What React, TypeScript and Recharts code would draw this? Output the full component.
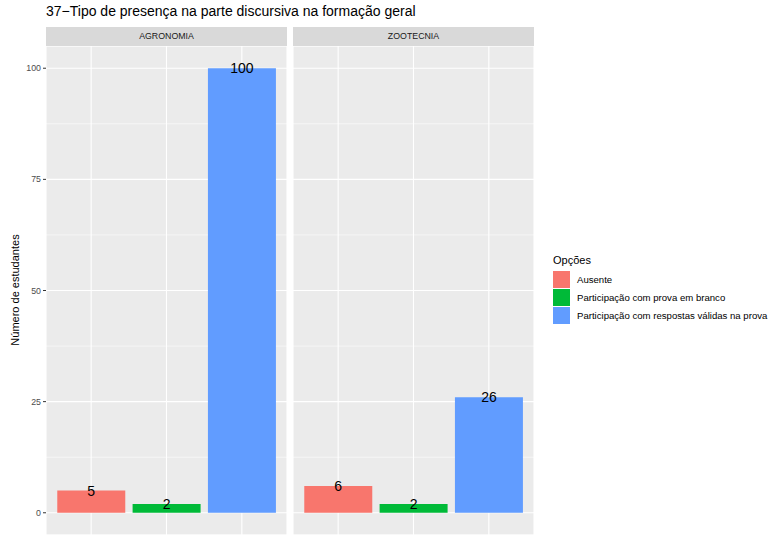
import React from "react";
import { BarChart, Bar, XAxis, YAxis, CartesianGrid, Cell, LabelList } from "recharts";

const categories = ["Ausente", "Participação com prova em branco", "Participação com respostas válidas na prova"];
const agronomiaValues = [5, 2, 100];
const zootecniaValues = [6, 2, 26];
const colors = ["#F8766D", "#00BA38", "#619CFF"];
const majorTicks = [0, 25, 50, 75, 100];
const minorTicks = [12.5, 37.5, 62.5, 87.5];
const facets = ["AGRONOMIA", "ZOOTECNIA"];

const FONT = "'Liberation Sans', Arial, Helvetica, sans-serif";

const buildData = (vals: number[]) => categories.map((c, i) => ({ cat: c, value: vals[i] }));

const ValueLabel = (props: any) => {
  const { x, y, width, value } = props;
  return (
    <text x={x + width / 2} y={y} textAnchor="middle" dominantBaseline="central" fontSize={14} fontFamily={FONT} fill="#000">
      {value}
    </text>
  );
};

const Panel = ({ vals, showAxis }: { vals: number[]; showAxis: boolean }) => {
  const data = buildData(vals);
  return (
    <BarChart
      width={showAxis ? 287 : 241}
      height={489}
      data={data}
      margin={{ top: 0, right: 0, bottom: 0, left: 0 }}
      barCategoryGap="5%"
    >
      <CartesianGrid fill="#EBEBEB" stroke="#FFFFFF" strokeWidth={0.55} vertical={false} yAxisId="minor" />
      <CartesianGrid stroke="#FFFFFF" strokeWidth={1.1} yAxisId="major" />
      <XAxis
        dataKey="cat"
        interval={0}
        hide
        padding={{ left: 7.5, right: 7.5 }}
      />
      <YAxis
        yAxisId="minor"
        type="number"
        domain={[-5, 105]}
        ticks={minorTicks}
        allowDataOverflow
        interval={0}
        hide
      />
      <YAxis
        yAxisId="major"
        type="number"
        domain={[-5, 105]}
        ticks={majorTicks}
        allowDataOverflow
        hide={!showAxis}
        width={46}
        axisLine={false}
        tickSize={3}
        tickMargin={2}
        tickLine={{ stroke: "#333333", strokeWidth: 1 }}
        tick={{ fill: "#4D4D4D", fontSize: 8.8, fontFamily: FONT }}
        interval={0}
      />
      <Bar dataKey="value" yAxisId="major" isAnimationActive={false}>
        {data.map((d, i) => (
          <Cell key={d.cat} fill={colors[i]} />
        ))}
        <LabelList dataKey="value" content={ValueLabel} />
      </Bar>
    </BarChart>
  );
};

const Strip = ({ label, left }: { label: string; left: number }) => (
  <div
    style={{
      position: "absolute",
      left,
      top: 27,
      width: 241,
      height: 19,
      background: "#D9D9D9",
      color: "#1A1A1A",
      fontFamily: FONT,
      fontSize: 8.8,
      lineHeight: "19px",
      textAlign: "center",
    }}
  >
    {label}
  </div>
);

export default function App() {
  return (
    <div style={{ position: "absolute", left: 0, top: 0, width: 769, height: 535, background: "#FFFFFF", overflow: "hidden" }}>
      <div style={{ position: "absolute", left: 46, top: 3, fontFamily: FONT, fontSize: 14, color: "#000", whiteSpace: "nowrap" }}>
        37−Tipo de presença na parte discursiva na formação geral
      </div>
      <Strip label={facets[0]} left={46} />
      <Strip label={facets[1]} left={293} />
      <div style={{ position: "absolute", left: 0, top: 46 }}>
        <Panel vals={agronomiaValues} showAxis={true} />
      </div>
      <div style={{ position: "absolute", left: 293, top: 46 }}>
        <Panel vals={zootecniaValues} showAxis={false} />
      </div>
      <div
        style={{
          position: "absolute",
          left: 15,
          top: 290,
          transform: "translate(-50%, -50%) rotate(-90deg)",
          fontFamily: FONT,
          fontSize: 11,
          color: "#000",
          whiteSpace: "nowrap",
        }}
      >
        Número de estudantes
      </div>
      <div style={{ position: "absolute", left: 553, top: 253, fontFamily: FONT }}>
        <div style={{ fontSize: 11, color: "#000", height: 17, lineHeight: "14px" }}>Opções</div>
        {categories.map((c, i) => (
          <div key={c} style={{ display: "flex", alignItems: "center", height: 18 }}>
            <div style={{ width: 17, height: 17, background: colors[i], marginRight: 7 }} />
            <span style={{ fontSize: 9.6, color: "#000", whiteSpace: "nowrap" }}>{c}</span>
          </div>
        ))}
      </div>
    </div>
  );
}
